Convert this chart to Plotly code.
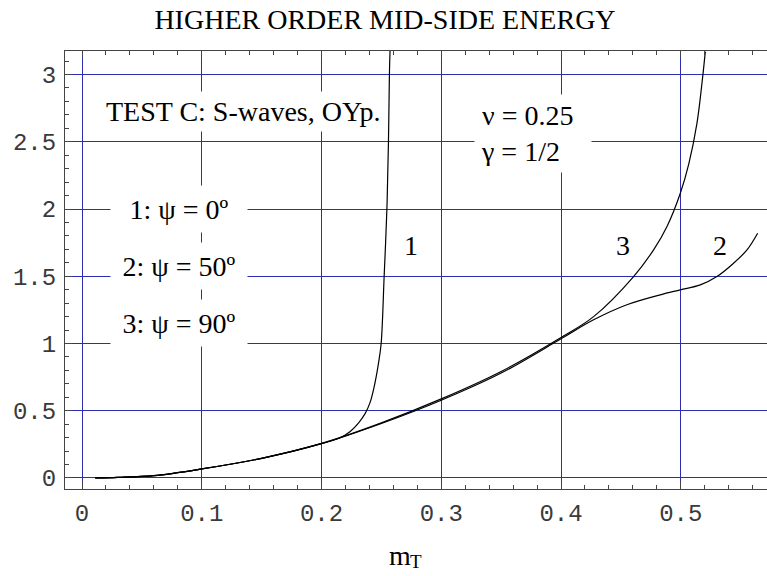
import plotly.graph_objects as go

# Curve 1 (psi = 0 deg)
m1 = [0.011, 0.03, 0.06, 0.1, 0.15, 0.2, 0.215, 0.224, 0.231, 0.2365, 0.2405,
      0.2440, 0.2476, 0.2498, 0.2523, 0.2546, 0.2559, 0.2567, 0.2573]
e1 = [0.0, 0.004, 0.017, 0.067, 0.146, 0.255, 0.297, 0.346, 0.41, 0.48, 0.56,
      0.68, 0.854, 1.0, 1.5, 2.0, 2.5, 3.0, 3.2]

# Curve 2 (psi = 50 deg)
m2 = [0.011, 0.03, 0.06, 0.1, 0.15, 0.2, 0.25, 0.3, 0.35, 0.4, 0.4272, 0.455,
      0.4829, 0.4996, 0.5163, 0.5302, 0.5441, 0.5553, 0.5642]
e2 = [0.0, 0.004, 0.017, 0.067, 0.146, 0.255, 0.405, 0.578, 0.78, 1.035, 1.176,
      1.288, 1.362, 1.399, 1.436, 1.498, 1.597, 1.696, 1.82]

# Curve 3 (psi = 90 deg)
m3 = [0.011, 0.03, 0.06, 0.1, 0.15, 0.2, 0.25, 0.3, 0.35, 0.4, 0.4272, 0.4606,
      0.4773, 0.4885, 0.4996, 0.5068, 0.5135, 0.5177, 0.5205]
e3 = [0.0, 0.004, 0.017, 0.067, 0.146, 0.257, 0.41, 0.588, 0.792, 1.045, 1.20,
      1.498, 1.696, 1.87, 2.117, 2.34, 2.637, 2.935, 3.17]

x_ticks = [0, 0.1, 0.2, 0.3, 0.4, 0.5]
x_tick_text = ["0", "0.1", "0.2", "0.3", "0.4", "0.5"]
y_ticks = [0, 0.5, 1, 1.5, 2, 2.5, 3]
y_tick_text = ["0", "0.5", "1", "1.5", "2", "2.5", "3"]

title_text = "HIGHER ORDER MID-SIDE ENERGY"
x_label_main = "m"
x_label_sub = "T"
test_label = "TEST C: S-waves, OYp."
param_label = "\u03bd = 0.25<br>\u03b3 = 1/2"
case_labels = ["1: \u03c8 = 0\u00ba", "2: \u03c8 = 50\u00ba", "3: \u03c8 = 90\u00ba"]
case_label_y = [2.0, 1.577, 1.155]
curve_names = ["1", "3", "2"]
curve_name_x = [0.275, 0.452, 0.533]
curve_name_y = [1.73, 1.73, 1.73]

SERIF = "Liberation Serif, Times New Roman, serif"
MONO = "Liberation Mono, Courier New, monospace"
GRID = "rgb(45,45,175)"
AXIS = "#444444"

fig = go.Figure()
for xs, ys in [(m1, e1), (m2, e2), (m3, e3)]:
    fig.add_trace(go.Scatter(
        x=xs, y=ys, mode="lines",
        line=dict(color="black", width=1.2, shape="spline", smoothing=1.0),
        showlegend=False, hoverinfo="skip"))

annotations = []
annotations.append(dict(
    x=0.1345, y=2.725, xref="x", yref="y", text=test_label, showarrow=False,
    font=dict(family=SERIF, size=28, color="black"), bgcolor="white",
    borderpad=4))
annotations.append(dict(
    x=0.3768, y=2.565, xref="x", yref="y", text=param_label, showarrow=False,
    align="left", width=104, height=65, valign="middle",
    font=dict(family=SERIF, size=28, color="black"), bgcolor="white",
    borderpad=6))
for txt, yy in zip(case_labels, case_label_y):
    annotations.append(dict(
        x=0.0806, y=yy, xref="x", yref="y", text=txt, showarrow=False,
        width=128, height=38, align="center",
        font=dict(family=SERIF, size=28, color="black"), bgcolor="white",
        borderpad=4))
for txt, xx, yy in zip(curve_names, curve_name_x, curve_name_y):
    annotations.append(dict(
        x=xx, y=yy, xref="x", yref="y", text=txt, showarrow=False,
        font=dict(family=SERIF, size=28, color="black")))
# axis label m_T, main letter and subscript
annotations.append(dict(
    x=(413 - 65) / 702, y=0, xref="paper", yref="paper",
    xanchor="right", yanchor="middle", yshift=-66,
    text=x_label_main, showarrow=False,
    font=dict(family=SERIF, size=28, color="black")))
annotations.append(dict(
    x=(408 - 65) / 702, y=0, xref="paper", yref="paper",
    xanchor="left", yanchor="middle", yshift=-72,
    text=x_label_sub, showarrow=False,
    font=dict(family=SERIF, size=19, color="black")))

fig.update_layout(
    width=767, height=576,
    margin=dict(l=65, r=0, t=51, b=87),
    paper_bgcolor="white", plot_bgcolor="white",
    title=dict(text=title_text, x=385 / 767, xref="container", xanchor="center",
               y=1 - 19 / 576, yref="container", yanchor="middle",
               font=dict(family=SERIF, size=28, color="black")),
    annotations=annotations,
    xaxis=dict(
        range=[-0.0142, 0.572], tickvals=x_ticks, ticktext=x_tick_text,
        ticks="inside", ticklen=7, tickwidth=1, tickcolor=AXIS,
        showline=True, linecolor=AXIS, linewidth=1, mirror="ticks",
        showgrid=True, gridcolor=GRID, gridwidth=1, zeroline=False,
        minor=dict(dtick=0.02, tick0=0, ticks="inside", ticklen=4,
                   tickcolor=AXIS, showgrid=False),
        tickfont=dict(family=MONO, size=24, color="#3a3a3a"),
        ticklabelstandoff=2),
    yaxis=dict(
        range=[-0.082, 3.175], tickvals=y_ticks, ticktext=y_tick_text,
        ticks="inside", ticklen=7, tickwidth=1, tickcolor=AXIS,
        showline=True, linecolor=AXIS, linewidth=1, mirror=False,
        showgrid=True, gridcolor=GRID, gridwidth=1, zeroline=False,
        minor=dict(dtick=0.1, tick0=0, ticks="inside", ticklen=4,
                   tickcolor=AXIS, showgrid=False),
        tickfont=dict(family=MONO, size=24, color="#3a3a3a"),
        ticklabelstandoff=3),
)

fig.write_html("out.html")
